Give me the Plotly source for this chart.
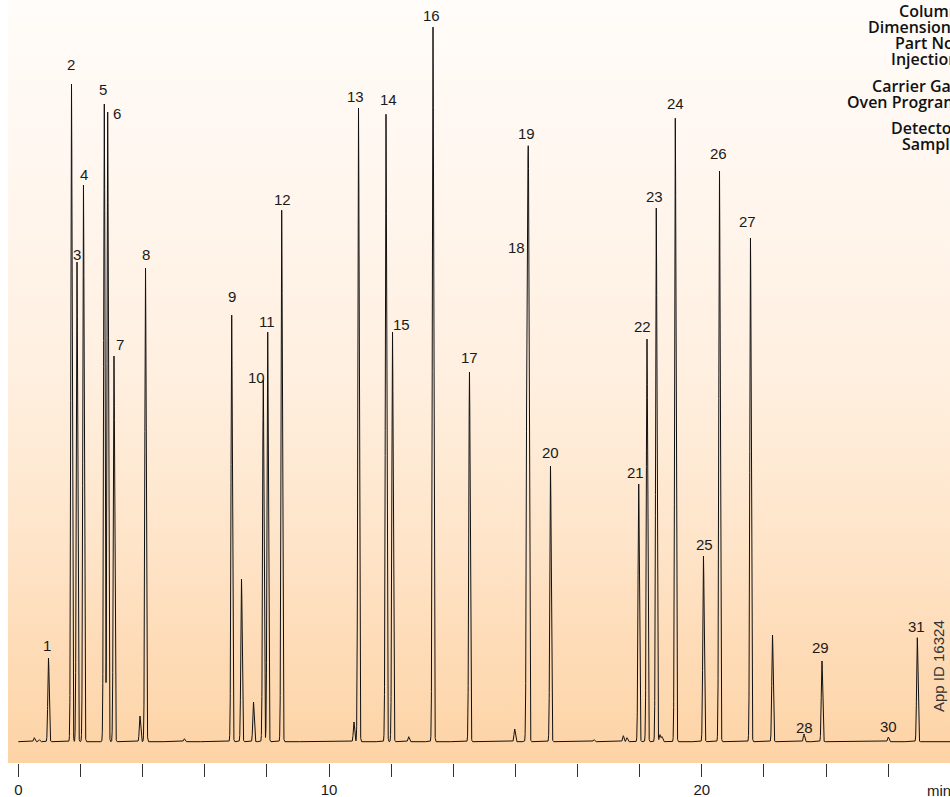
import numpy as np
import plotly.graph_objects as go

# ---------------- data ----------------
# retention times (min), peak heights (detector response, arbitrary units), peak labels
peak_times = [0.515, 0.676, 0.972, 1.712, 1.889, 2.098, 2.768, 2.877, 3.080, 3.917, 4.094,
              5.343, 6.868, 7.184, 7.570, 7.885, 8.027, 8.478, 10.805, 10.950, 11.835,
              12.044, 12.565, 13.347, 14.522, 15.977, 16.375, 16.420, 17.129, 18.529,
              19.472, 19.591, 19.968, 20.235, 20.534, 20.653, 20.718, 21.146, 22.053,
              22.568, 23.566, 24.274, 25.288, 25.867, 28.001, 28.935]
peak_heights = [4, 2, 83.7, 657.7, 479.7, 556.7, 637.7, 629.7, 385.7, 25.7, 473.7,
                3, 426.7, 162.7, 39.7, 361.7, 409.7, 531.7, 19.7, 633.7, 627.7,
                409.7, 5, 714.7, 369.7, 12.7, 430, 525, 275.7, 2,
                6, 4, 257.7, 402.7, 533.7, 7, 5, 623.7, 185.7,
                570.7, 503.7, 106.7, 7.7, 80.7, 4.7, 104]
peak_labels = ["", "", "1", "2", "3", "4", "5", "6", "7", "", "8",
               "", "9", "", "", "10", "11", "12", "", "13", "14",
               "15", "", "16", "17", "", "18", "19", "20", "",
               "", "", "21", "22", "23", "", "", "24", "25",
               "26", "27", "", "28", "29", "30", "31"]

tick_values = [0, 2, 4, 6, 8, 10, 12, 14, 16, 18, 20, 22, 24, 26, 28]
tick_labels = ["0", "", "", "", "", "10", "", "", "", "", "", "20", "", "", ""]

conditions = ["Column:", "Dimensions:", "Part No.:", "Injection:",
              "Carrier Gas:", "Oven Program:", "Detector:", "Sample:"]
app_id = "App ID 16324"

# ---------------- presentation ----------------
# label offsets in pixels (dx, dy) relative to the peak apex
label_offsets = {
    "1": (-1.5, 13), "2": (-0.5, 20), "3": (0, 8), "4": (0.5, 11), "5": (-1.3, 15),
    "6": (9, -1), "7": (6, 12), "8": (0.5, 14), "9": (0, 19), "10": (-6.6, 3),
    "11": (-1, 11), "12": (0.3, 11), "13": (-3.5, 12), "14": (2, 15), "15": (8.5, 8),
    "16": (-1, 12), "17": (-0.5, 15), "18": (-11, -1), "19": (-2, 30), "20": (-0.5, 14),
    "21": (-3, 12), "22": (-5, 13), "23": (-2, 12), "24": (-0.3, 15), "25": (1.5, 12),
    "26": (-0.5, 18), "27": (-3, 17), "28": (0, 7), "29": (-1, 14), "30": (0, 11),
    "31": (-0.6, 11),
}
cond_y_px = [11, 27, 43, 59, 86, 102, 128, 144]

W, H = 950, 797
ML, MR, MT, MB = 8, 0, 0, 34
PW, PH = W - ML - MR, H - MT - MB
x0_px, px_per_min = 18.3, 31.07
xmin = (ML - x0_px) / px_per_min
xmax = (W - MR - x0_px) / px_per_min
base_px = 741.7
ymin, ymax = -(MT + PH - base_px), base_px - MT

sigma = 0.022
t = np.linspace(0.0, xmax, 20001)
pt = np.array(peak_times)
ph = np.array(peak_heights)
signal = (ph[None, :] * np.exp(-((t[:, None] - pt[None, :]) ** 2) / (2 * sigma ** 2))).sum(axis=1)

def curve_at(tt):
    return float((ph * np.exp(-((tt - pt) ** 2) / (2 * sigma ** 2))).sum())

fig = go.Figure()

# gradient background of the plotting area
fig.add_trace(go.Scatter(
    x=[xmin, xmax, xmax, xmin, xmin], y=[ymin, ymin, ymax, ymax, ymin],
    mode="none", fill="toself", hoverinfo="skip", showlegend=False,
    fillgradient=dict(type="vertical", start=ymin, stop=ymax,
                      colorscale=[[0, "#FDD3A5"], [0.16, "#FEDCB8"], [0.28, "#FEE4C8"],
                                  [0.5, "#FFEFDF"], [0.75, "#FFF6EE"], [1, "#FFFCF9"]]),
))

fig.add_trace(go.Scatter(x=t, y=signal, mode="lines",
                         line=dict(color="#111111", width=1), showlegend=False,
                         hoverinfo="skip"))

ann = []
lab_font = dict(family="Liberation Sans, Arial, sans-serif", size=15, color="#1a1a1a")
for tt, lab in zip(peak_times, peak_labels):
    if not lab:
        continue
    dx, dy = label_offsets[lab]
    ann.append(dict(x=tt, y=curve_at(tt), xref="x", yref="y", text=lab, showarrow=False,
                    xanchor="center", yanchor="middle", xshift=dx, yshift=dy, font=lab_font))

for txt, ypx in zip(conditions, cond_y_px):
    ann.append(dict(x=(964 - ML) / PW, y=1 - (ypx - MT) / PH, xref="paper", yref="paper",
                    text=txt, showarrow=False, xanchor="right", yanchor="middle", borderpad=0,
                    font=dict(family="Open Sans, sans-serif", size=16, color="#111111", weight=600)))

ann.append(dict(x=(938 - ML) / PW, y=1 - (666 - MT) / PH, xref="paper", yref="paper",
                text=app_id, textangle=-90, showarrow=False, xanchor="center", yanchor="middle",
                font=dict(family="Liberation Sans, Arial, sans-serif", size=15, color="#333333")))

ann.append(dict(x=(925 - ML) / PW, y=1 - (790 - MT) / PH, xref="paper", yref="paper",
                text="min", showarrow=False, xanchor="left", yanchor="middle",
                font=dict(family="Liberation Sans, Arial, sans-serif", size=15, color="#1a1a1a")))

fig.update_layout(
    width=W, height=H, margin=dict(l=ML, r=MR, t=MT, b=MB),
    paper_bgcolor="white", plot_bgcolor="white",
    annotations=ann, showlegend=False,
    xaxis=dict(range=[xmin, xmax], showgrid=False, zeroline=False, showline=False,
               tickmode="array", tickvals=tick_values, ticktext=tick_labels,
               ticks="outside", ticklen=13, tickwidth=1, tickcolor="#333333",
               tickfont=dict(family="Liberation Sans, Arial, sans-serif", size=15, color="#1a1a1a")),
    yaxis=dict(range=[ymin, ymax], visible=False, showgrid=False, zeroline=False),
)

fig.write_html("out.html")
